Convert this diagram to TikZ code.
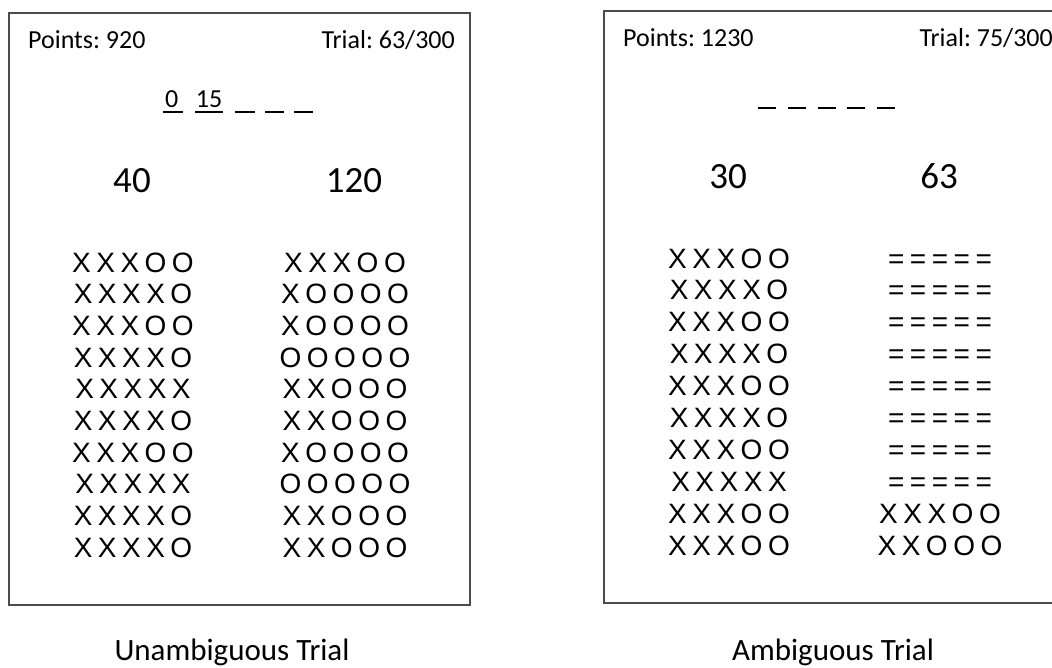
\documentclass[tikz,border=0pt]{standalone}
\usepackage{fontspec}
\setmainfont{Carlito}
\newfontfamily\calibfont{Carlito}
\newfontfamily\gridfont{Liberation Sans}
\newcommand\gridtype{\gridfont\fontsize{28}{30}\selectfont\spaceskip 5.5pt\relax}
\frenchspacing
\begin{document}
\begin{tikzpicture}[x=1pt,y=-1pt,
  frame/.style={draw=black!70,line width=1.3pt},
  header/.style={inner sep=0pt,font=\calibfont\fontsize{26}{30}\selectfont},
  score/.style={inner sep=0pt,anchor=base,font=\calibfont\fontsize{37}{40}\selectfont},
  caption/.style={inner sep=0pt,anchor=base,font=\calibfont\fontsize{31}{34}\selectfont},
  digit/.style={inner sep=0pt,anchor=base,font=\calibfont\fontsize{26}{30}\selectfont},
  slot/.style={line width=1.9pt},
  gridrow/.style={inner sep=0pt,anchor=base,font=\gridtype}]
\useasboundingbox (0,0) rectangle (1052,667);
\fill[white] (0,0) rectangle (1052,667);

% ---------- left panel ----------
\draw[frame] (9,13) rectangle (470,605);
\node[header,anchor=base west] (lpts) at (28,48) {Points: 920};
\node[header,anchor=base east] (ltrial) at (455,48) {Trial: 63/300};

% revealed digits and open slots
\node[digit,anchor=base west] (ld1) at (165,107) {0};
\node[digit] (ld2) at (209,107) {15};
\foreach \a/\b [count=\k] in {163/183,195/223,235/255,265/284,294/313}
  \draw[slot] (\a,112) -- (\b,112);

\node[score] (lsa) at (132,192) {40};
\node[score] (lsb) at (354,192) {120};

\foreach \r [count=\i from 0] in {X X X O O,X X X X O,X X X O O,X X X X O,X X X X X,X X X X O,X X X O O,X X X X X,X X X X O,X X X X O}
  \node[gridrow] (la\i) at (133,{272+31.7*\i}) {\r};
\foreach \r [count=\i from 0] in {X X X O O,X O O O O,X O O O O,O O O O O,X X O O O,X X O O O,X O O O O,O O O O O,X X O O O,X X O O O}
  \node[gridrow] (lb\i) at (345,{272+31.7*\i}) {\r};

\node[caption] (lcap) at (232,660) {Unambiguous Trial};

% ---------- right panel ----------
\draw[frame] (1060,11) -- (604,11) -- (604,603) -- (1060,603);
\node[header,anchor=base west] (rpts) at (623,46) {Points: 1230};
\node[header,anchor=base east] (rtrial) at (1053,46) {Trial: 75/300};

\foreach \k in {0,...,4}
  \draw[slot] ({758+29.75*\k},108) -- ({776+29.75*\k},108);

\node[score] (rsa) at (728,188) {30};
\node[score] (rsb) at (939,188) {63};

\foreach \r [count=\i from 0] in {X X X O O,X X X X O,X X X O O,X X X X O,X X X O O,X X X X O,X X X O O,X X X X X,X X X O O,X X X O O}
  \node[gridrow] (ra\i) at (729,{268+31.9*\i}) {\r};
\foreach \r [count=\i from 0] in {= = = = =,= = = = =,= = = = =,= = = = =,= = = = =,= = = = =,= = = = =,= = = = =,X X X O O,X X O O O}
  \node[gridrow] (rb\i) at (940,{268+31.9*\i}) {\r};

\node[caption] (rcap) at (833,660) {Ambiguous Trial};
\end{tikzpicture}
\end{document}
